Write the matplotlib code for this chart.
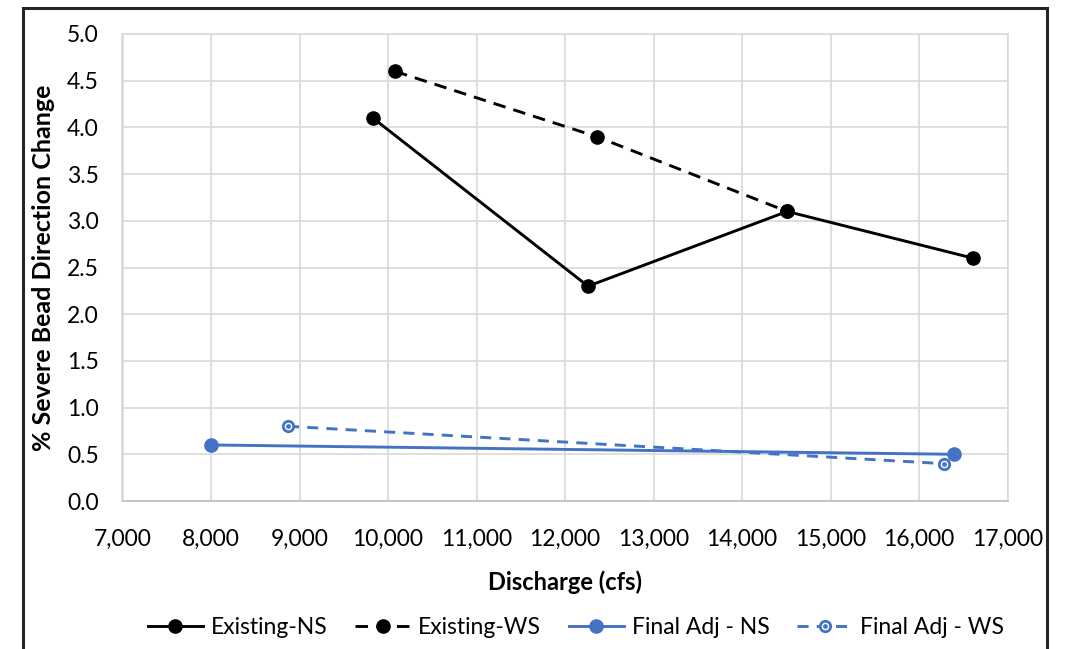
import matplotlib
matplotlib.use("Agg")
import matplotlib.pyplot as plt
from matplotlib.patches import Rectangle
from matplotlib.legend_handler import HandlerTuple
from matplotlib.ticker import FuncFormatter, MultipleLocator

plt.rcParams['font.family'] = ['Lato', 'DejaVu Sans']

# Discharge (cfs) and % severe bead direction change per scenario
existing_ns_x = [9830, 12260, 14510, 16610]
existing_ns_y = [4.1, 2.3, 3.1, 2.6]
existing_ws_x = [10080, 12360, 14510]
existing_ws_y = [4.6, 3.9, 3.1]
final_ns_x = [8000, 16400]
final_ns_y = [0.6, 0.5]
final_ws_x = [8870, 16280]
final_ws_y = [0.8, 0.4]

labels = ["Existing-NS", "Existing-WS", "Final Adj - NS", "Final Adj - WS"]

BLUE = "#4472C4"
GRID = "#D9D9D9"
LW = 2.1

fig = plt.figure(figsize=(10.66, 6.49), dpi=100)
ax = fig.add_axes([122.5 / 1066, 1 - 501 / 649, 885 / 1066, 467 / 649])

h1, = ax.plot(existing_ns_x, existing_ns_y, color="black", lw=LW,
              marker="o", ms=9.5, label=labels[0], zorder=4)
h2, = ax.plot(existing_ws_x, existing_ws_y, color="black", lw=LW,
              ls=(0, (4.3, 2.8)), marker="o", ms=9.5, label=labels[1], zorder=4)
h3, = ax.plot(final_ns_x, final_ns_y, color=BLUE, lw=LW,
              marker="o", ms=9.5, label=labels[2], zorder=3)
h4, = ax.plot(final_ws_x, final_ws_y, color=BLUE, lw=LW,
              ls=(0, (3.8, 2.8)), marker="o", ms=7.5, mfc="white",
              mec=BLUE, mew=2.0, label=labels[3], zorder=3)
h4dot, = ax.plot(final_ws_x, final_ws_y, ls="none", marker="o", ms=2.4,
                 color=BLUE, zorder=5)

ax.set_xlim(7000, 17000)
ax.set_ylim(0, 5.0)
ax.xaxis.set_major_locator(MultipleLocator(1000))
ax.yaxis.set_major_locator(MultipleLocator(0.5))
ax.xaxis.set_major_formatter(FuncFormatter(lambda v, p: f"{v:,.0f}"))
ax.yaxis.set_major_formatter(FuncFormatter(lambda v, p: f"{v:.1f}"))
ax.grid(True, color=GRID, lw=1.2)
ax.set_axisbelow(True)
for side in ("left", "right", "top"):
    ax.spines[side].set_color(GRID)
    ax.spines[side].set_linewidth(1.2)
ax.spines["bottom"].set_color("#BFBFBF")
ax.spines["bottom"].set_linewidth(1.2)
ax.tick_params(length=0, labelsize=16.5, colors="#000000")
ax.tick_params(axis="x", pad=20)
ax.tick_params(axis="y", pad=17)

ax.set_xlabel("Discharge (cfs)", fontsize=17, fontweight="bold", labelpad=15)
ax.set_ylabel("% Severe Bead Direction Change", fontsize=18,
              fontweight="bold", labelpad=9)

leg = fig.legend([h1, h2, h3, (h4, h4dot)], labels,
                 handler_map={tuple: HandlerTuple(ndivide=1, pad=0)},
                 loc="center", bbox_to_anchor=(576 / 1066, 1 - 628 / 649),
                 ncol=4, frameon=False, fontsize=16.5, handlelength=2.4,
                 handletextpad=0.35, columnspacing=1.2)

# Outer chart frame
fig.patches.append(Rectangle((23 / 1066, -0.05), (1047 - 23) / 1066,
                             1.05 - 8 / 649, transform=fig.transFigure,
                             fill=False, edgecolor="#262626", lw=2.2,
                             clip_on=False))

fig.savefig("out.png", dpi=100)
